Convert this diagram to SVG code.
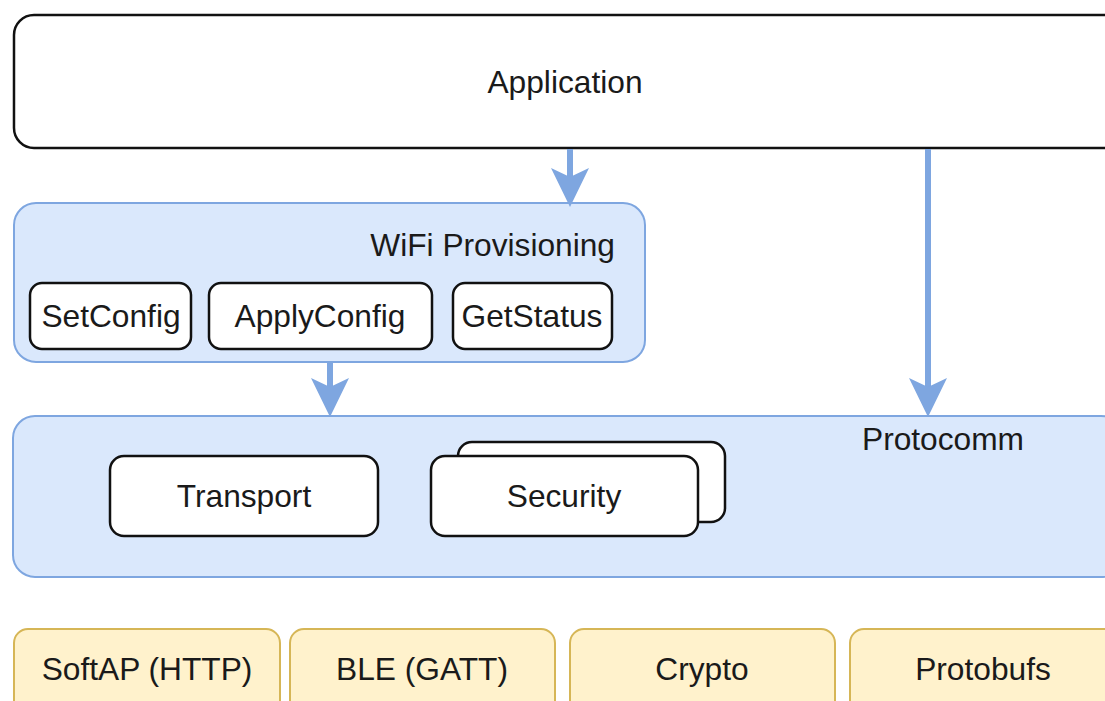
<svg xmlns="http://www.w3.org/2000/svg" width="1105" height="701" viewBox="0 0 1105 701">
<style>
.t{font-family:"Liberation Sans",Arial,sans-serif;font-size:31.7px;fill:#1a1a1a;}
.w{fill:#fff;stroke:#111;stroke-width:2.5;}
.b{fill:#dae8fc;stroke:#7ea6e0;stroke-width:2;}
.y{fill:#fff2cc;stroke:#d6b656;stroke-width:2;}
.c{stroke:#7ea6e0;stroke-width:6;fill:none;}
.h{fill:#7ea6e0;}
</style>
<rect width="1105" height="701" fill="#fff"/>
<g id="application"><rect class="w" x="14" y="15" width="1110" height="133" rx="20"/><text class="t" x="565" y="93" text-anchor="middle">Application</text></g>
<g id="wifi"><rect class="b" x="14" y="203" width="631" height="159" rx="22"/><text class="t" x="615" y="256" text-anchor="end">WiFi Provisioning</text></g>
<g id="setconfig"><rect class="w" x="30" y="283" width="161" height="66" rx="12"/><text class="t" x="111" y="327" text-anchor="middle">SetConfig</text></g>
<g id="applyconfig"><rect class="w" x="209" y="283" width="223" height="66" rx="12"/><text class="t" x="320" y="327" text-anchor="middle">ApplyConfig</text></g>
<g id="getstatus"><rect class="w" x="453" y="283" width="159" height="66" rx="12"/><text class="t" x="532" y="327" text-anchor="middle">GetStatus</text></g>
<g id="protocomm"><rect class="b" x="13" y="416" width="1110" height="161" rx="22"/><text class="t" x="943" y="450" text-anchor="middle">Protocomm</text></g>
<g id="transport"><rect class="w" x="110" y="456" width="268" height="80" rx="14"/><text class="t" x="244" y="507" text-anchor="middle">Transport</text></g>
<g id="security"><rect class="w" x="458" y="442" width="267" height="80" rx="14"/><rect class="w" x="431" y="456" width="267" height="80" rx="14"/><text class="t" x="564" y="507" text-anchor="middle">Security</text></g>
<g id="softap"><rect class="y" x="14" y="629" width="266" height="100" rx="14"/><text class="t" x="147" y="680" text-anchor="middle">SoftAP (HTTP)</text></g>
<g id="ble"><rect class="y" x="290" y="629" width="265" height="100" rx="14"/><text class="t" x="422" y="680" text-anchor="middle">BLE (GATT)</text></g>
<g id="crypto"><rect class="y" x="570" y="629" width="265" height="100" rx="14"/><text class="t" x="702" y="680" text-anchor="middle">Crypto</text></g>
<g id="protobufs"><rect class="y" x="850" y="629" width="280" height="100" rx="14"/><text class="t" x="983" y="680" text-anchor="middle">Protobufs</text></g>
<g id="connectors">
<line class="c" x1="570" y1="149" x2="570" y2="180"/><path class="h" d="M570,207 L551,168 L570,177 L589,168 Z"/>
<line class="c" x1="330" y1="363" x2="330" y2="392"/><path class="h" d="M330,417 L311,378 L330,387 L349,378 Z"/>
<line class="c" x1="928" y1="149" x2="928" y2="392"/><path class="h" d="M928,417 L909,378 L928,387 L947,378 Z"/>
</g>
</svg>
